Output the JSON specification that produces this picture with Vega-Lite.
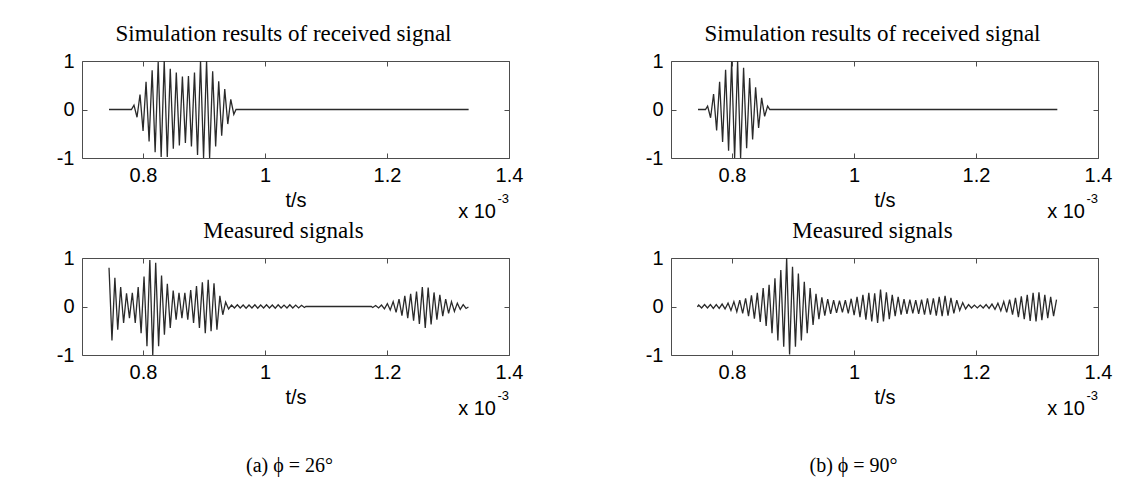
{
"$schema": "https://vega.github.io/schema/vega-lite/v6.json",
"background": "white",
"padding": {"left": 55, "top": 22, "right": 5, "bottom": 5},
"config": {
  "view": {"stroke": "#4d4d4d", "strokeWidth": 1},
  "line": {"color": "#2a2a2a", "strokeWidth": 1.3},
  "axis": {"labelFont": "Liberation Sans", "labelFontSize": 20, "labelColor": "#000", "titleFont": "Liberation Sans", "titleFontSize": 20, "titleFontWeight": "normal", "titleColor": "#000", "grid": false, "domain": false, "tickColor": "#4d4d4d", "tickSize": -5, "labelFlush": false, "labelOverlap": false},
  "axisBottom": {"labelPadding": 12, "titlePadding": 5},
  "axisLeft": {"labelPadding": 13},
  "title": {"font": "Liberation Serif", "fontSize": 23, "fontWeight": "normal", "color": "#000", "baseline": "alphabetic", "offset": 5, "dx": -12}
},
"datasets": {
"simA": [{"t":0.7443,"v":0},{"t":0.7810,"v":0},{"t":0.7852,"v":0.09},{"t":0.7902,"v":-0.16},{"t":0.7951,"v":0.31},{"t":0.8001,"v":-0.44},{"t":0.8050,"v":0.57},{"t":0.8100,"v":-0.66},{"t":0.8150,"v":0.81},{"t":0.8199,"v":-0.88},{"t":0.8249,"v":0.98},{"t":0.8298,"v":-0.98},{"t":0.8348,"v":1.0},{"t":0.8398,"v":-0.98},{"t":0.8447,"v":0.84},{"t":0.8497,"v":-0.81},{"t":0.8546,"v":0.76},{"t":0.8596,"v":-0.74},{"t":0.8646,"v":0.68},{"t":0.8695,"v":-0.69},{"t":0.8745,"v":0.69},{"t":0.8794,"v":-0.76},{"t":0.8844,"v":0.76},{"t":0.8894,"v":-0.94},{"t":0.8943,"v":1.0},{"t":0.8993,"v":-1.0},{"t":0.9042,"v":1.0},{"t":0.9092,"v":-1.0},{"t":0.9142,"v":0.79},{"t":0.9191,"v":-0.76},{"t":0.9241,"v":0.58},{"t":0.9290,"v":-0.54},{"t":0.9340,"v":0.42},{"t":0.9390,"v":-0.30},{"t":0.9439,"v":0.21},{"t":0.9489,"v":-0.10},{"t":0.9525,"v":0},{"t":1.3338,"v":0}],
"simB": [{"t":0.7443,"v":0},{"t":0.7565,"v":0},{"t":0.7600,"v":0.07},{"t":0.7649,"v":-0.17},{"t":0.7698,"v":0.32},{"t":0.7748,"v":-0.43},{"t":0.7797,"v":0.57},{"t":0.7846,"v":-0.67},{"t":0.7895,"v":0.82},{"t":0.7944,"v":-0.85},{"t":0.7994,"v":0.99},{"t":0.8043,"v":-1.0},{"t":0.8092,"v":1.0},{"t":0.8141,"v":-1.0},{"t":0.8190,"v":0.86},{"t":0.8240,"v":-0.80},{"t":0.8289,"v":0.65},{"t":0.8338,"v":-0.62},{"t":0.8387,"v":0.46},{"t":0.8436,"v":-0.38},{"t":0.8486,"v":0.24},{"t":0.8535,"v":-0.14},{"t":0.8584,"v":0.07},{"t":0.8620,"v":0},{"t":1.3333,"v":0}],
"measA": [{"t":0.7443,"v":0.80},{"t":0.7491,"v":-0.70},{"t":0.7539,"v":0.59},{"t":0.7586,"v":-0.48},{"t":0.7634,"v":0.40},{"t":0.7682,"v":-0.34},{"t":0.7730,"v":0.27},{"t":0.7778,"v":-0.24},{"t":0.7825,"v":0.28},{"t":0.7873,"v":-0.34},{"t":0.7921,"v":0.40},{"t":0.7969,"v":-0.55},{"t":0.8017,"v":0.62},{"t":0.8065,"v":-0.82},{"t":0.8112,"v":0.96},{"t":0.8160,"v":-1.0},{"t":0.8208,"v":0.90},{"t":0.8256,"v":-0.82},{"t":0.8304,"v":0.64},{"t":0.8351,"v":-0.58},{"t":0.8399,"v":0.47},{"t":0.8447,"v":-0.44},{"t":0.8495,"v":0.33},{"t":0.8543,"v":-0.27},{"t":0.8590,"v":0.28},{"t":0.8638,"v":-0.24},{"t":0.8686,"v":0.28},{"t":0.8734,"v":-0.27},{"t":0.8782,"v":0.34},{"t":0.8829,"v":-0.34},{"t":0.8877,"v":0.42},{"t":0.8925,"v":-0.44},{"t":0.8973,"v":0.50},{"t":0.9021,"v":-0.55},{"t":0.9069,"v":0.55},{"t":0.9116,"v":-0.51},{"t":0.9164,"v":0.48},{"t":0.9212,"v":-0.48},{"t":0.9260,"v":0.22},{"t":0.9308,"v":-0.17},{"t":0.9355,"v":0.09},{"t":0.9403,"v":-0.05},{"t":0.9451,"v":0.03},{"t":0.9499,"v":-0.03},{"t":0.9547,"v":0.035},{"t":0.9594,"v":-0.03},{"t":0.9642,"v":0.03},{"t":0.9690,"v":-0.035},{"t":0.9738,"v":0.03},{"t":0.9786,"v":-0.03},{"t":0.9834,"v":0.035},{"t":0.9881,"v":-0.035},{"t":0.9929,"v":0.03},{"t":0.9977,"v":-0.03},{"t":1.0025,"v":0.035},{"t":1.0073,"v":-0.03},{"t":1.0120,"v":0.03},{"t":1.0168,"v":-0.035},{"t":1.0216,"v":0.035},{"t":1.0264,"v":-0.03},{"t":1.0312,"v":0.03},{"t":1.0360,"v":-0.03},{"t":1.0407,"v":0.035},{"t":1.0455,"v":-0.03},{"t":1.0503,"v":0.03},{"t":1.0551,"v":-0.03},{"t":1.0599,"v":0.025},{"t":1.0646,"v":-0.02},{"t":1.0670,"v":0},{"t":1.1743,"v":0},{"t":1.1766,"v":-0.02},{"t":1.1814,"v":0.02},{"t":1.1862,"v":-0.03},{"t":1.1910,"v":0.03},{"t":1.1958,"v":-0.05},{"t":1.2006,"v":0.06},{"t":1.2053,"v":-0.07},{"t":1.2101,"v":0.10},{"t":1.2149,"v":-0.12},{"t":1.2197,"v":0.15},{"t":1.2245,"v":-0.19},{"t":1.2292,"v":0.22},{"t":1.2340,"v":-0.24},{"t":1.2388,"v":0.26},{"t":1.2436,"v":-0.29},{"t":1.2484,"v":0.31},{"t":1.2531,"v":-0.36},{"t":1.2579,"v":0.40},{"t":1.2627,"v":-0.44},{"t":1.2675,"v":0.39},{"t":1.2723,"v":-0.37},{"t":1.2771,"v":0.29},{"t":1.2818,"v":-0.27},{"t":1.2866,"v":0.24},{"t":1.2914,"v":-0.20},{"t":1.2962,"v":0.15},{"t":1.3010,"v":-0.14},{"t":1.3057,"v":0.10},{"t":1.3105,"v":-0.10},{"t":1.3153,"v":0.07},{"t":1.3201,"v":-0.06},{"t":1.3249,"v":0.04},{"t":1.3296,"v":-0.04},{"t":1.3335,"v":-0.01}],
"measB": [{"t":0.7432,"v":-0.01},{"t":0.7454,"v":0.03},{"t":0.7502,"v":-0.03},{"t":0.7550,"v":0.04},{"t":0.7598,"v":-0.03},{"t":0.7646,"v":0.04},{"t":0.7694,"v":-0.04},{"t":0.7742,"v":0.04},{"t":0.7790,"v":-0.04},{"t":0.7838,"v":0.05},{"t":0.7886,"v":-0.05},{"t":0.7935,"v":0.07},{"t":0.7983,"v":-0.08},{"t":0.8031,"v":0.10},{"t":0.8079,"v":-0.11},{"t":0.8127,"v":0.13},{"t":0.8175,"v":-0.14},{"t":0.8223,"v":0.17},{"t":0.8271,"v":-0.20},{"t":0.8319,"v":0.23},{"t":0.8367,"v":-0.25},{"t":0.8415,"v":0.28},{"t":0.8463,"v":-0.32},{"t":0.8511,"v":0.38},{"t":0.8560,"v":-0.40},{"t":0.8608,"v":0.45},{"t":0.8656,"v":-0.55},{"t":0.8704,"v":0.58},{"t":0.8752,"v":-0.70},{"t":0.8800,"v":0.75},{"t":0.8848,"v":-0.83},{"t":0.8896,"v":1.0},{"t":0.8944,"v":-0.99},{"t":0.8992,"v":0.82},{"t":0.9040,"v":-0.83},{"t":0.9088,"v":0.68},{"t":0.9137,"v":-0.70},{"t":0.9185,"v":0.51},{"t":0.9233,"v":-0.55},{"t":0.9281,"v":0.38},{"t":0.9329,"v":-0.38},{"t":0.9377,"v":0.26},{"t":0.9425,"v":-0.26},{"t":0.9473,"v":0.19},{"t":0.9521,"v":-0.19},{"t":0.9569,"v":0.15},{"t":0.9617,"v":-0.15},{"t":0.9666,"v":0.13},{"t":0.9714,"v":-0.13},{"t":0.9762,"v":0.12},{"t":0.9810,"v":-0.12},{"t":0.9858,"v":0.13},{"t":0.9906,"v":-0.14},{"t":0.9954,"v":0.16},{"t":1.0002,"v":-0.18},{"t":1.0050,"v":0.20},{"t":1.0098,"v":-0.22},{"t":1.0146,"v":0.24},{"t":1.0195,"v":-0.27},{"t":1.0243,"v":0.28},{"t":1.0291,"v":-0.31},{"t":1.0339,"v":0.27},{"t":1.0387,"v":-0.34},{"t":1.0435,"v":0.35},{"t":1.0483,"v":-0.31},{"t":1.0531,"v":0.29},{"t":1.0579,"v":-0.26},{"t":1.0627,"v":0.24},{"t":1.0675,"v":-0.20},{"t":1.0724,"v":0.20},{"t":1.0772,"v":-0.17},{"t":1.0820,"v":0.15},{"t":1.0868,"v":-0.15},{"t":1.0916,"v":0.14},{"t":1.0964,"v":-0.14},{"t":1.1012,"v":0.13},{"t":1.1060,"v":-0.15},{"t":1.1108,"v":0.14},{"t":1.1156,"v":-0.17},{"t":1.1204,"v":0.17},{"t":1.1253,"v":-0.17},{"t":1.1301,"v":0.17},{"t":1.1349,"v":-0.19},{"t":1.1397,"v":0.20},{"t":1.1445,"v":-0.20},{"t":1.1493,"v":0.22},{"t":1.1541,"v":-0.19},{"t":1.1589,"v":0.18},{"t":1.1637,"v":-0.14},{"t":1.1685,"v":0.13},{"t":1.1733,"v":-0.08},{"t":1.1782,"v":0.08},{"t":1.1830,"v":-0.05},{"t":1.1878,"v":0.04},{"t":1.1926,"v":-0.03},{"t":1.1974,"v":0.03},{"t":1.2022,"v":-0.03},{"t":1.2070,"v":0.03},{"t":1.2118,"v":-0.03},{"t":1.2166,"v":0.04},{"t":1.2214,"v":-0.04},{"t":1.2262,"v":0.05},{"t":1.2311,"v":-0.06},{"t":1.2359,"v":0.07},{"t":1.2407,"v":-0.09},{"t":1.2455,"v":0.10},{"t":1.2503,"v":-0.12},{"t":1.2551,"v":0.14},{"t":1.2599,"v":-0.17},{"t":1.2647,"v":0.18},{"t":1.2695,"v":-0.22},{"t":1.2743,"v":0.21},{"t":1.2791,"v":-0.26},{"t":1.2840,"v":0.24},{"t":1.2888,"v":-0.30},{"t":1.2936,"v":0.28},{"t":1.2984,"v":-0.31},{"t":1.3032,"v":0.29},{"t":1.3080,"v":-0.28},{"t":1.3128,"v":0.24},{"t":1.3176,"v":-0.24},{"t":1.3224,"v":0.20},{"t":1.3272,"v":-0.20},{"t":1.3320,"v":0.14}],
"expo": [{"t":1.4,"v":-1,"base":"x 10","power":"-3"}]
},
"spacing": 120,
"hconcat": [
 {"bounds": "flush", "spacing": 100,
  "title": {"text": "(a) ϕ = 26°", "orient": "bottom", "anchor": "middle", "frame": "bounds", "font": "Liberation Serif", "fontSize": 20, "offset": 36, "dx": 0},
  "vconcat": [
   {"width": 427, "height": 97, "title": {"text": "Simulation results of received signal"},
    "layer": [
     {"data": {"name": "simA"}, "mark": {"type": "line"},
      "encoding": {"x": {"field": "t", "type": "quantitative", "scale": {"domain": [0.7, 1.4], "nice": false, "zero": false}, "axis": {"orient": "bottom", "values": [0.8, 1, 1.2, 1.4], "format": "~g", "title": "t/s"}},
                   "y": {"field": "v", "type": "quantitative", "scale": {"domain": [-1, 1], "nice": false}, "axis": {"orient": "left", "values": [-1, 0, 1], "labelExpr": "datum.value > 0.5 ? '1' : (datum.value < -0.5 ? '-1' : '0')", "title": null}}}},
     {"data": {"name": "simA"}, "mark": {"type": "line", "strokeOpacity": 0},
      "encoding": {"x": {"field": "t", "type": "quantitative", "scale": {"domain": [0.7, 1.4], "nice": false, "zero": false}, "axis": {"orient": "top", "values": [0.8, 1, 1.2, 1.4], "labels": false, "title": null}},
                   "y": {"field": "v", "type": "quantitative", "scale": {"domain": [-1, 1], "nice": false}, "axis": {"orient": "right", "values": [-1, 0, 1], "labels": false, "title": null}}}},
     {"data": {"name": "expo"}, "mark": {"type": "text", "align": "right", "baseline": "alphabetic", "dx": -13, "dy": 60, "font": "Liberation Sans", "fontSize": 20, "color": "#000"},
      "encoding": {"x": {"field": "t", "type": "quantitative", "scale": {"domain": [0.7, 1.4], "nice": false, "zero": false}, "axis": null}, "y": {"field": "v", "type": "quantitative", "scale": {"domain": [-1, 1], "nice": false}, "axis": null}, "text": {"field": "base"}}},
     {"data": {"name": "expo"}, "mark": {"type": "text", "align": "right", "baseline": "alphabetic", "dx": 0, "dy": 45, "font": "Liberation Sans", "fontSize": 13, "color": "#000"},
      "encoding": {"x": {"field": "t", "type": "quantitative", "scale": {"domain": [0.7, 1.4], "nice": false, "zero": false}, "axis": null}, "y": {"field": "v", "type": "quantitative", "scale": {"domain": [-1, 1], "nice": false}, "axis": null}, "text": {"field": "power"}}}
    ],
    "resolve": {"axis": {"x": "independent", "y": "independent"}}},
   {"width": 427, "height": 97, "title": {"text": "Measured signals"},
    "layer": [
     {"data": {"name": "measA"}, "mark": {"type": "line"},
      "encoding": {"x": {"field": "t", "type": "quantitative", "scale": {"domain": [0.7, 1.4], "nice": false, "zero": false}, "axis": {"orient": "bottom", "values": [0.8, 1, 1.2, 1.4], "format": "~g", "title": "t/s"}},
                   "y": {"field": "v", "type": "quantitative", "scale": {"domain": [-1, 1], "nice": false}, "axis": {"orient": "left", "values": [-1, 0, 1], "labelExpr": "datum.value > 0.5 ? '1' : (datum.value < -0.5 ? '-1' : '0')", "title": null}}}},
     {"data": {"name": "measA"}, "mark": {"type": "line", "strokeOpacity": 0},
      "encoding": {"x": {"field": "t", "type": "quantitative", "scale": {"domain": [0.7, 1.4], "nice": false, "zero": false}, "axis": {"orient": "top", "values": [0.8, 1, 1.2, 1.4], "labels": false, "title": null}},
                   "y": {"field": "v", "type": "quantitative", "scale": {"domain": [-1, 1], "nice": false}, "axis": {"orient": "right", "values": [-1, 0, 1], "labels": false, "title": null}}}},
     {"data": {"name": "expo"}, "mark": {"type": "text", "align": "right", "baseline": "alphabetic", "dx": -13, "dy": 60, "font": "Liberation Sans", "fontSize": 20, "color": "#000"},
      "encoding": {"x": {"field": "t", "type": "quantitative", "scale": {"domain": [0.7, 1.4], "nice": false, "zero": false}, "axis": null}, "y": {"field": "v", "type": "quantitative", "scale": {"domain": [-1, 1], "nice": false}, "axis": null}, "text": {"field": "base"}}},
     {"data": {"name": "expo"}, "mark": {"type": "text", "align": "right", "baseline": "alphabetic", "dx": 0, "dy": 45, "font": "Liberation Sans", "fontSize": 13, "color": "#000"},
      "encoding": {"x": {"field": "t", "type": "quantitative", "scale": {"domain": [0.7, 1.4], "nice": false, "zero": false}, "axis": null}, "y": {"field": "v", "type": "quantitative", "scale": {"domain": [-1, 1], "nice": false}, "axis": null}, "text": {"field": "power"}}}
    ],
    "resolve": {"axis": {"x": "independent", "y": "independent"}}}
  ]},
 {"bounds": "flush", "spacing": 100,
  "title": {"text": "(b) ϕ = 90°", "orient": "bottom", "anchor": "middle", "frame": "bounds", "font": "Liberation Serif", "fontSize": 20, "offset": 36, "dx": -25},
  "vconcat": [
   {"width": 427, "height": 97, "title": {"text": "Simulation results of received signal"},
    "layer": [
     {"data": {"name": "simB"}, "mark": {"type": "line"},
      "encoding": {"x": {"field": "t", "type": "quantitative", "scale": {"domain": [0.7, 1.4], "nice": false, "zero": false}, "axis": {"orient": "bottom", "values": [0.8, 1, 1.2, 1.4], "format": "~g", "title": "t/s"}},
                   "y": {"field": "v", "type": "quantitative", "scale": {"domain": [-1, 1], "nice": false}, "axis": {"orient": "left", "values": [-1, 0, 1], "labelExpr": "datum.value > 0.5 ? '1' : (datum.value < -0.5 ? '-1' : '0')", "title": null}}}},
     {"data": {"name": "simB"}, "mark": {"type": "line", "strokeOpacity": 0},
      "encoding": {"x": {"field": "t", "type": "quantitative", "scale": {"domain": [0.7, 1.4], "nice": false, "zero": false}, "axis": {"orient": "top", "values": [0.8, 1, 1.2, 1.4], "labels": false, "title": null}},
                   "y": {"field": "v", "type": "quantitative", "scale": {"domain": [-1, 1], "nice": false}, "axis": {"orient": "right", "values": [-1, 0, 1], "labels": false, "title": null}}}},
     {"data": {"name": "expo"}, "mark": {"type": "text", "align": "right", "baseline": "alphabetic", "dx": -13, "dy": 60, "font": "Liberation Sans", "fontSize": 20, "color": "#000"},
      "encoding": {"x": {"field": "t", "type": "quantitative", "scale": {"domain": [0.7, 1.4], "nice": false, "zero": false}, "axis": null}, "y": {"field": "v", "type": "quantitative", "scale": {"domain": [-1, 1], "nice": false}, "axis": null}, "text": {"field": "base"}}},
     {"data": {"name": "expo"}, "mark": {"type": "text", "align": "right", "baseline": "alphabetic", "dx": 0, "dy": 45, "font": "Liberation Sans", "fontSize": 13, "color": "#000"},
      "encoding": {"x": {"field": "t", "type": "quantitative", "scale": {"domain": [0.7, 1.4], "nice": false, "zero": false}, "axis": null}, "y": {"field": "v", "type": "quantitative", "scale": {"domain": [-1, 1], "nice": false}, "axis": null}, "text": {"field": "power"}}}
    ],
    "resolve": {"axis": {"x": "independent", "y": "independent"}}},
   {"width": 427, "height": 97, "title": {"text": "Measured signals"},
    "layer": [
     {"data": {"name": "measB"}, "mark": {"type": "line"},
      "encoding": {"x": {"field": "t", "type": "quantitative", "scale": {"domain": [0.7, 1.4], "nice": false, "zero": false}, "axis": {"orient": "bottom", "values": [0.8, 1, 1.2, 1.4], "format": "~g", "title": "t/s"}},
                   "y": {"field": "v", "type": "quantitative", "scale": {"domain": [-1, 1], "nice": false}, "axis": {"orient": "left", "values": [-1, 0, 1], "labelExpr": "datum.value > 0.5 ? '1' : (datum.value < -0.5 ? '-1' : '0')", "title": null}}}},
     {"data": {"name": "measB"}, "mark": {"type": "line", "strokeOpacity": 0},
      "encoding": {"x": {"field": "t", "type": "quantitative", "scale": {"domain": [0.7, 1.4], "nice": false, "zero": false}, "axis": {"orient": "top", "values": [0.8, 1, 1.2, 1.4], "labels": false, "title": null}},
                   "y": {"field": "v", "type": "quantitative", "scale": {"domain": [-1, 1], "nice": false}, "axis": {"orient": "right", "values": [-1, 0, 1], "labels": false, "title": null}}}},
     {"data": {"name": "expo"}, "mark": {"type": "text", "align": "right", "baseline": "alphabetic", "dx": -13, "dy": 60, "font": "Liberation Sans", "fontSize": 20, "color": "#000"},
      "encoding": {"x": {"field": "t", "type": "quantitative", "scale": {"domain": [0.7, 1.4], "nice": false, "zero": false}, "axis": null}, "y": {"field": "v", "type": "quantitative", "scale": {"domain": [-1, 1], "nice": false}, "axis": null}, "text": {"field": "base"}}},
     {"data": {"name": "expo"}, "mark": {"type": "text", "align": "right", "baseline": "alphabetic", "dx": 0, "dy": 45, "font": "Liberation Sans", "fontSize": 13, "color": "#000"},
      "encoding": {"x": {"field": "t", "type": "quantitative", "scale": {"domain": [0.7, 1.4], "nice": false, "zero": false}, "axis": null}, "y": {"field": "v", "type": "quantitative", "scale": {"domain": [-1, 1], "nice": false}, "axis": null}, "text": {"field": "power"}}}
    ],
    "resolve": {"axis": {"x": "independent", "y": "independent"}}}
  ]}
]
}
